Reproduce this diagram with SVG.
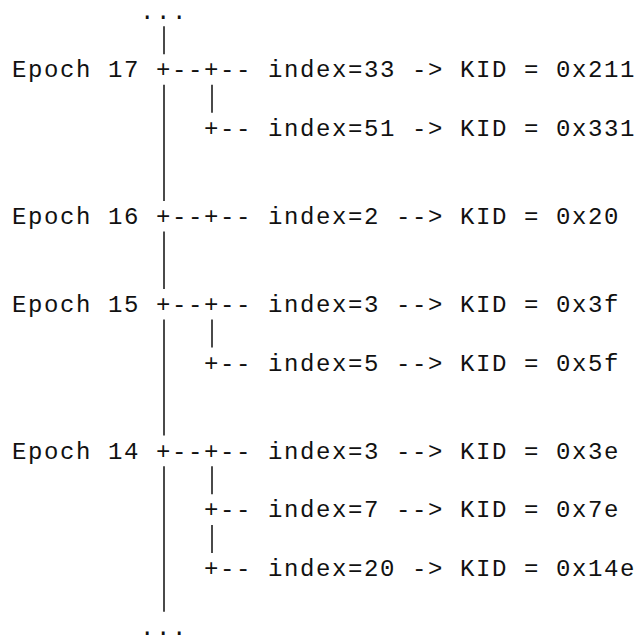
<svg xmlns="http://www.w3.org/2000/svg" width="638" height="635" viewBox="0 0 638 635">
<style>
text{font-family:"Courier New","Liberation Mono",monospace;font-size:24px;letter-spacing:1.6px;fill:#111;white-space:pre}
line{stroke:#4a4a4a;stroke-width:2}
</style>
<rect width="638" height="635" fill="#fff"/>
<g id="connectors">
<line x1="164" y1="26.2" x2="164" y2="54.2"/>
<line x1="164" y1="84.8" x2="164" y2="200.9"/>
<line x1="164" y1="231.5" x2="164" y2="288.9"/>
<line x1="164" y1="319.5" x2="164" y2="435.6"/>
<line x1="164" y1="466.3" x2="164" y2="611.7"/>
<line x1="212" y1="84.8" x2="212" y2="112.8"/>
<line x1="212" y1="319.5" x2="212" y2="347.5"/>
<line x1="212" y1="466.3" x2="212" y2="494.3"/>
<line x1="212" y1="524.9" x2="212" y2="552.9"/>
</g>
<g id="top"><text x="140" y="18.6">...</text></g>
<g id="epoch17">
<text x="12" y="77.3">Epoch 17 +--+-- index=33 -&gt; KID = 0x211</text>
<text x="204" y="136">+-- index=51 -&gt; KID = 0x331</text>
</g>
<g id="epoch16">
<text x="12" y="224">Epoch 16 +--+-- index=2 --&gt; KID = 0x20</text>
</g>
<g id="epoch15">
<text x="12" y="312">Epoch 15 +--+-- index=3 --&gt; KID = 0x3f</text>
<text x="204" y="370.7">+-- index=5 --&gt; KID = 0x5f</text>
</g>
<g id="epoch14">
<text x="12" y="458.7">Epoch 14 +--+-- index=3 --&gt; KID = 0x3e</text>
<text x="204" y="517.4">+-- index=7 --&gt; KID = 0x7e</text>
<text x="204" y="576.1">+-- index=20 -&gt; KID = 0x14e</text>
</g>
<g id="bottom"><text x="140" y="634.8">...</text></g>
</svg>
